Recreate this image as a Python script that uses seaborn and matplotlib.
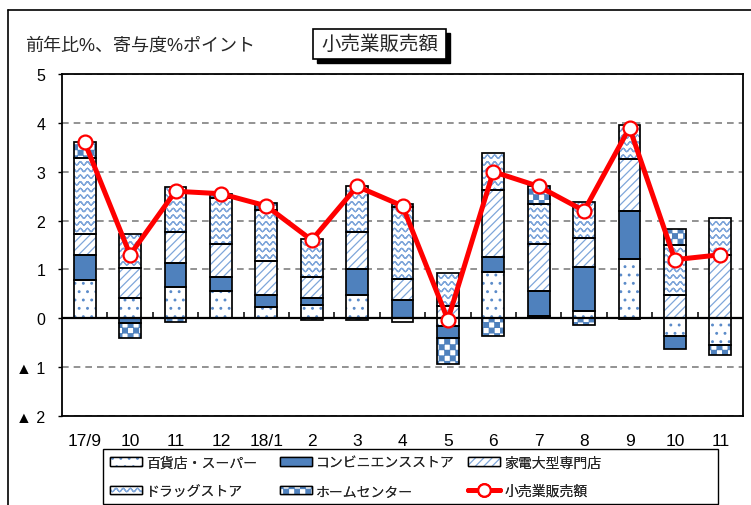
import warnings
warnings.filterwarnings("ignore")
import numpy as np
import matplotlib
matplotlib.use("Agg")
import matplotlib.pyplot as plt
import matplotlib.hatch as mhatch
from matplotlib.path import Path
from matplotlib.patches import Patch, Rectangle
from matplotlib.lines import Line2D
import seaborn as sns

# ---------------- data ----------------
period_keys = ["2017-09", "2017-10", "2017-11", "2017-12", "2018-01", "2018-02", "2018-03",
               "2018-04", "2018-05", "2018-06", "2018-07", "2018-08", "2018-09", "2018-10", "2018-11"]
tick_labels = ["17/9", "10", "11", "12", "18/1", "2", "3", "4", "5", "6", "7", "8", "9", "10", "11"]

dept_super = [0.78, 0.41, 0.65, 0.56, 0.24, 0.27, 0.48, -0.08, -0.15, 0.94, 0.04, 0.15, 1.22, -0.37, -0.54]
convenience = [0.51, -0.10, 0.49, 0.29, 0.24, 0.14, 0.52, 0.37, -0.26, 0.32, 0.52, 0.90, 0.97, -0.26, 0.00]
electronics = [0.44, 0.61, 0.62, 0.67, 0.69, 0.44, 0.76, 0.43, 0.26, 1.36, 0.96, 0.60, 1.07, 0.48, 1.29]
drugstore = [1.55, 0.70, 0.93, 0.94, 1.04, 0.77, 0.94, 1.48, 0.66, 0.76, 0.81, 0.73, 0.70, 1.03, 0.76]
home_center = [0.33, -0.30, -0.08, 0.09, 0.14, -0.03, -0.03, 0.05, -0.53, -0.37, 0.37, -0.14, -0.02, 0.31, -0.22]
retail_total = [3.6, 1.3, 2.6, 2.55, 2.3, 1.6, 2.7, 2.3, -0.03, 3.0, 2.7, 2.2, 3.9, 1.2, 1.3]

series_names = ["百貨店・スーパー", "コンビニエンスストア", "家電大型専門店", "ドラッグストア", "ホームセンター"]
line_name = "小売業販売額"
ylabel_text = "前年比%、寄与度%ポイント"
ytick_vals = [-2, -1, 0, 1, 2, 3, 4, 5]
ytick_labels = ["▲ 2", "▲ 1", "0", "1", "2", "3", "4", "5"]


# ---------------- custom hatches (wave / checker) ----------------
class WaveHatch(mhatch.HatchPatternBase):
    def __init__(self, hatch, density):
        self.num_lines = hatch.count('w') * 5
        self.periods = 14
        self.pts = self.periods * 8 + 1
        self.num_vertices = self.num_lines * self.pts * 2

    def set_vertices_and_codes(self, vertices, codes):
        xs = np.linspace(0, 1, self.pts)
        ys0 = 0.017 * np.sin(2 * np.pi * self.periods * xs)
        fx = np.concatenate([xs, xs[::-1]])
        fy0 = np.concatenate([ys0, ys0[::-1]])
        n = len(fx)
        k = 0
        for i in range(self.num_lines):
            s = (i + 0.5) / self.num_lines
            vertices[k:k + n, 0] = fx
            vertices[k:k + n, 1] = fy0 + s
            codes[k] = Path.MOVETO
            codes[k + 1:k + n] = Path.LINETO
            k += n


class CheckerHatch(mhatch.HatchPatternBase):
    def __init__(self, hatch, density):
        self.n = hatch.count('c') * 6
        self.cells = [(i, j) for i in range(self.n) for j in range(self.n) if (i + j) % 2 == 0]
        self.num_vertices = len(self.cells) * 5

    def set_vertices_and_codes(self, vertices, codes):
        d = 1.0 / self.n
        e = 0.004
        for k, (i, j) in enumerate(self.cells):
            x0, y0 = i * d + e, j * d + e
            x1, y1 = (i + 1) * d - e, (j + 1) * d - e
            vertices[5 * k:5 * k + 5] = [(x0, y0), (x1, y0), (x1, y1), (x0, y1), (x0, y0)]
            codes[5 * k] = Path.MOVETO
            codes[5 * k + 1:5 * k + 4] = Path.LINETO
            codes[5 * k + 4] = Path.CLOSEPOLY


mhatch._hatch_types.append(WaveHatch)
mhatch._hatch_types.append(CheckerHatch)

# ---------------- style ----------------
sns.set_theme(style="white")
plt.rcParams['font.family'] = ['Liberation Sans', 'Noto Sans CJK JP', 'DejaVu Sans']
plt.rcParams['hatch.linewidth'] = 0.9
plt.rcParams['axes.unicode_minus'] = False

BLUE = "#4F81BD"
DOT_C = "#5B8BC9"
LIGHT = "#7FA6DA"

fig = plt.figure(figsize=(7.51, 5.06), dpi=100)
ax = fig.add_axes([62 / 751, 1 - 417 / 506, 681 / 751, 342 / 506])

all_series = [dept_super, convenience, electronics, drugstore, home_center]
styles = [
    dict(face="white", hatch="..", hatchcolor=DOT_C),
    dict(face=BLUE, hatch=None, hatchcolor=None),
    dict(face="white", hatch="////", hatchcolor=LIGHT),
    dict(face="white", hatch="www", hatchcolor=LIGHT),
    dict(face="white", hatch="ccc", hatchcolor=BLUE),
]

pos_base = np.zeros(len(period_keys))
neg_base = np.zeros(len(period_keys))
bottoms_list = []
for vals in all_series:
    v = np.asarray(vals, dtype=float)
    b = np.where(v >= 0, pos_base, neg_base)
    bottoms_list.append(b.copy())
    pos_base = pos_base + np.clip(v, 0, None)
    neg_base = neg_base + np.clip(v, None, 0)

BAR_W = 0.48
for vals, b, st in zip(all_series, bottoms_list, styles):
    if st["hatch"] is None:
        sns.barplot(x=period_keys, y=vals, order=period_keys, bottom=b, width=BAR_W,
                    color=st["face"], saturation=1, errorbar=None, ax=ax,
                    edgecolor=st["face"], linewidth=0, zorder=2)
    else:
        sns.barplot(x=period_keys, y=vals, order=period_keys, bottom=b, width=BAR_W,
                    color=st["face"], saturation=1, errorbar=None, ax=ax,
                    hatch=st["hatch"], edgecolor=st["hatchcolor"], linewidth=0, zorder=2)
for vals, b in zip(all_series, bottoms_list):
    sns.barplot(x=period_keys, y=vals, order=period_keys, bottom=b, width=BAR_W,
                color="white", facecolor="none", saturation=1, errorbar=None, ax=ax,
                edgecolor="black", linewidth=1.25, zorder=3)

# zero line and category separators
ax.axhline(0, color="black", lw=1.6, zorder=4)
ax.vlines(np.arange(0.5, len(period_keys) - 1, 1.0), 0, 0.12, color="black", lw=1.1, zorder=4)

# total line
sns.lineplot(x=np.arange(len(period_keys)), y=retail_total, ax=ax, color="red", lw=3.6,
             marker="o", markersize=10, markerfacecolor="white", markeredgecolor="red",
             markeredgewidth=1.6, zorder=6)

# axes styling
ax.set_xlim(-0.5, len(period_keys) - 0.5)
ax.set_ylim(-2, 5)
ax.set_yticks(ytick_vals)
ax.set_yticklabels(ytick_labels, fontsize=11.5, color="black")
ax.set_xticks(np.arange(len(period_keys)))
ax.set_xticklabels(tick_labels, fontsize=12.5, color="black")
ax.set_xlabel("")
ax.set_ylabel("")
ax.tick_params(axis="x", length=0, pad=12)
ax.tick_params(axis="y", length=3, width=1, direction="out", pad=9, color="black", left=True)
ax.set_axisbelow(True)
ax.yaxis.grid(True, linestyle=(0, (4, 3)), color="#808080", lw=1.2)
ax.xaxis.grid(False)
for sp in ax.spines.values():
    sp.set_visible(True)
    sp.set_color("black")
    sp.set_linewidth(1.3)

# y label text
fig.text(25 / 751, 1 - 46 / 506, ylabel_text, fontsize=13, ha="left", va="center")

# title box with shadow
fig.patches.append(Rectangle((317 / 751, 1 - 64 / 506), 133 / 751, 30 / 506,
                             transform=fig.transFigure, facecolor="black", edgecolor="black",
                             lw=1, zorder=1))
fig.patches.append(Rectangle((313 / 751, 1 - 60 / 506), 133 / 751, 30 / 506,
                             transform=fig.transFigure, facecolor="white", edgecolor="black",
                             lw=1.2, zorder=2))
fig.text((313 + 66.5) / 751, 1 - 45 / 506, line_name, fontsize=14, ha="center", va="center",
         zorder=3)

# outer frame (partial, runs off the image)
fig.lines.append(Line2D([8 / 751, 8 / 751], [0, 1 - 11 / 506], transform=fig.transFigure,
                        color="black", lw=1.2))
fig.lines.append(Line2D([8 / 751, 1], [1 - 11 / 506, 1 - 11 / 506], transform=fig.transFigure,
                        color="black", lw=1.2))

# legend: frame + three single-column legends
fig.patches.append(Rectangle((103 / 751, 1 - 505 / 506), 615 / 751, 55 / 506,
                             transform=fig.transFigure, facecolor="white", edgecolor="black",
                             lw=1.0, zorder=1))
handles = []
for st in styles:
    if st["hatch"] is None:
        handles.append(Patch(facecolor=st["face"], edgecolor="black", lw=1.0))
    else:
        h1 = Patch(facecolor=st["face"], hatch=st["hatch"], edgecolor=st["hatchcolor"], lw=0)
        h2 = Patch(facecolor="none", edgecolor="black", lw=1.0)
        handles.append((h1, h2))
line_handle = Line2D([], [], color="red", lw=3.6, marker="o", markersize=9,
                     markerfacecolor="white", markeredgecolor="red", markeredgewidth=1.6)

columns = [
    ([handles[0], handles[3]], [series_names[0], series_names[3]], 110),
    ([handles[1], handles[4]], [series_names[1], series_names[4]], 280),
    ([handles[2], line_handle], [series_names[2], line_name], 468),
]
for hs, ls, x0 in columns:
    lg = fig.legend(hs, ls, ncol=1, loc="upper left",
                    bbox_to_anchor=(x0 / 751, 1 - 456.5 / 506),
                    borderaxespad=0, borderpad=0, fontsize=10, frameon=False,
                    handlelength=2.3, handleheight=0.55, handletextpad=0.3,
                    labelspacing=1.03)
    lg.set_zorder(5)
    fig.add_artist(lg)

fig.savefig("out.png", dpi=100)
